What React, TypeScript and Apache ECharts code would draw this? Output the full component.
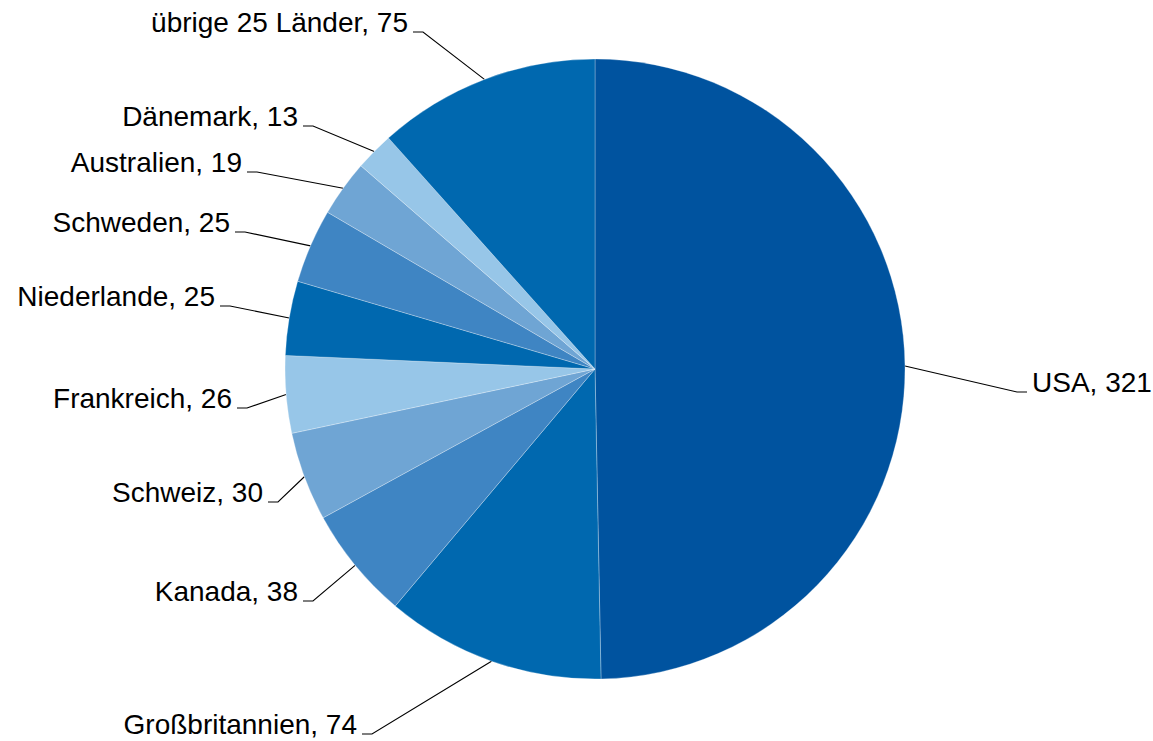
import React, { useEffect, useRef } from 'react';
import * as echarts from 'echarts';

const countries = ['USA', 'Großbritannien', 'Kanada', 'Schweiz', 'Frankreich', 'Niederlande', 'Schweden', 'Australien', 'Dänemark', 'übrige 25 Länder'];
const values = [321, 74, 38, 30, 26, 25, 25, 19, 13, 75];
const sliceColors = ['#00539F', '#0068AF', '#3F85C3', '#6FA5D4', '#97C6E8', '#0068AF', '#3F85C3', '#6FA5D4', '#97C6E8', '#0068AF'];
// bend point of each leader line (pixel layout, not data)
const labelBends = [[1017, 392], [372, 734], [313, 601], [278, 502], [247, 408], [230, 306], [245, 232], [257, 172], [313, 126], [423, 32]];

const CX = 595;
const CY = 369;
const R = 310;

function edgePoint(i: number): number[] {
  const total = values.reduce((a, b) => a + b, 0);
  let cum = 0;
  for (let k = 0; k < i; k++) cum += values[k];
  const mid = ((cum + values[i] / 2) / total) * Math.PI * 2;
  return [CX + R * Math.sin(mid), CY - R * Math.cos(mid)];
}

export default function App() {
  const ref = useRef<HTMLDivElement>(null);
  useEffect(() => {
    if (!ref.current) return;
    const chart = echarts.init(ref.current, undefined, { renderer: 'svg' });
    chart.setOption({
      animation: false,
      backgroundColor: '#ffffff',
      series: [
        {
          type: 'pie',
          center: [CX, CY],
          radius: R,
          startAngle: 90,
          clockwise: true,
          avoidLabelOverlap: false,
          data: countries.map((name, i) => ({
            name,
            value: values[i],
            itemStyle: { color: sliceColors[i] },
          })),
          itemStyle: { borderColor: 'rgba(255,255,255,0.35)', borderWidth: 0.8 },
          label: {
            show: true,
            position: 'outside',
            formatter: '{b}, {c}',
            color: '#000000',
            fontFamily: '"Liberation Sans", Arial, sans-serif',
            fontSize: 28,
          },
          labelLine: {
            show: true,
            length: 20,
            length2: 10,
            lineStyle: { color: '#000000', width: 1.1 },
          },
          labelLayout: (p: any) => {
            const i = p.dataIndex;
            const [bx, by] = labelBends[i];
            const right = i === 0;
            const segEnd = right ? bx + 10 : bx - 10;
            const textX = right ? segEnd + 5 : segEnd - 5;
            const start = edgePoint(i);
            return {
              x: textX,
              y: by - 9.5,
              align: right ? 'left' : 'right',
              verticalAlign: 'middle',
              labelLinePoints: [start, [bx, by], [segEnd, by]],
            };
          },
        },
      ],
    });
    return () => chart.dispose();
  }, []);
  return (
    <div
      ref={ref}
      style={{ position: 'fixed', left: 0, top: 0, width: 1153, height: 741, background: '#fff' }}
    />
  );
}
